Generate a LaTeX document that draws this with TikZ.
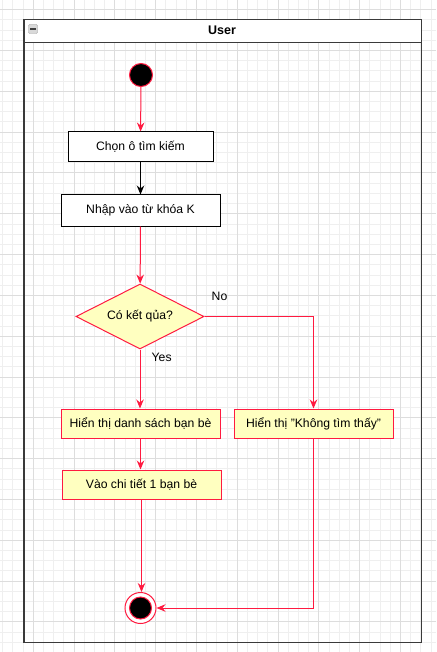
\documentclass[tikz,border=0pt]{standalone}
\usepackage{fontspec}
\setmainfont{Liberation Sans}
\usetikzlibrary{arrows.meta,shapes.geometric}
\definecolor{myred}{HTML}{FF1A40}
\definecolor{myyellow}{HTML}{FFFFC0}
\definecolor{gridminor}{HTML}{EFEFEF}
\definecolor{gridmajor}{HTML}{DDDDDD}
\definecolor{frame}{HTML}{3A3A3A}
\begin{document}
\begin{tikzpicture}[x=1pt,y=-1pt,
  every node/.style={font=\fontsize{12.2}{14}\selectfont},
  plainbox/.style={draw=black,fill=white,line width=1pt,minimum height=30pt,inner sep=0pt},
  actbox/.style={draw=myred,fill=myyellow,line width=1pt,minimum width=159pt,minimum height=29pt,inner sep=0pt},
  decbox/.style={diamond,draw=myred,fill=myyellow,line width=1pt,minimum width=128pt,minimum height=65pt,inner sep=0pt,aspect=1.97},
  redflow/.style={draw=myred,line width=1pt,-{Stealth[length=9pt,width=7.5pt,inset=3pt]}},
  blackflow/.style={draw=black,line width=1pt,-{Stealth[length=9pt,width=7.5pt,inset=3pt]}},
  lbl/.style={anchor=west,inner sep=0pt}]
\useasboundingbox (0,0) rectangle (436,652);
\fill[white] (0,0) rectangle (436,652);
% grid
\foreach \i in {0,...,42}{\pgfmathsetmacro\xx{2.6+10.2*\i}\draw[gridminor,line width=0.8pt] (\xx,0) -- (\xx,652);}
\foreach \k in {0,...,64}{\pgfmathsetmacro\yy{-0.5+10.2*\k}\draw[gridminor,line width=0.8pt] (0,\yy) -- (436,\yy);}
\foreach \j in {0,...,9}{\pgfmathsetmacro\xx{33.2+40.8*\j}\draw[gridmajor,line width=0.8pt] (\xx,0) -- (\xx,652);}
\foreach \j in {0,...,15}{\pgfmathsetmacro\yy{9.7+40.8*\j}\draw[gridmajor,line width=0.8pt] (0,\yy) -- (436,\yy);}
% container
\fill[white] (24,19.5) rectangle (421.5,43);
\draw[frame,line width=1.4pt] (24,19.5) rectangle (421.5,642.7);
\draw[frame,line width=1pt] (24,43) -- (421.5,43);
\node[font=\bfseries\fontsize{12.5}{14}\selectfont] (title) at (222,30) {User};
\node[draw=gray!80,fill=gray!30,rounded corners=1.2pt,minimum width=9pt,minimum height=9pt,inner sep=0pt] (icon) at (33,29) {};
\draw[black!75,line width=1.2pt] ([xshift=-2.6pt]icon.center) -- ([xshift=2.6pt]icon.center);
% nodes
\node[circle,draw=myred,fill=black,line width=1pt,minimum size=23pt,inner sep=0pt] (start) at (141,75) {};
\node[plainbox,minimum width=145pt] (b1) at (140.5,147) {Chọn ô tìm kiếm};
\node[plainbox,minimum width=159pt,minimum height=31pt] (b2) at (140.5,210.5) {Nhập vào từ khóa K};
\node[decbox] (d) at (140,316.5) {Có kết qủa?};
\node[actbox] (b3) at (140.5,423.5) {Hiển thị danh sách bạn bè};
\node[actbox] (b4) at (313.5,423.5) {Hiển thị "Không tìm thấy"};
\node[actbox] (b5) at (141.5,484.5) {Vào chi tiết 1 bạn bè};
\node[circle,draw=myred,fill=white,line width=1pt,minimum size=31pt,inner sep=0pt] (end) at (140.5,608) {};
\node[circle,draw=myred,fill=black,line width=1pt,minimum size=22pt,inner sep=0pt] (endin) at (140.5,608) {};
% labels
\node[lbl] (yes) at (151.5,357.5) {Yes};
\node[lbl] (no) at (211.5,296) {No};
% connectors
\draw[redflow] (start) -- (b1);
\draw[blackflow] (b1) -- (b2);
\draw[redflow] (b2) -- (d);
\draw[redflow] (d.south) -- (d.south |- b3.north);
\draw[redflow] (d.east) -| (b4.north);
\draw[redflow] (b3.south) -- (b3.south |- b5.north);
\draw[redflow] (b5.south) -- (b5.south |- end.north);
\draw[redflow] (b4.south) |- (end.east);
\end{tikzpicture}
\end{document}
